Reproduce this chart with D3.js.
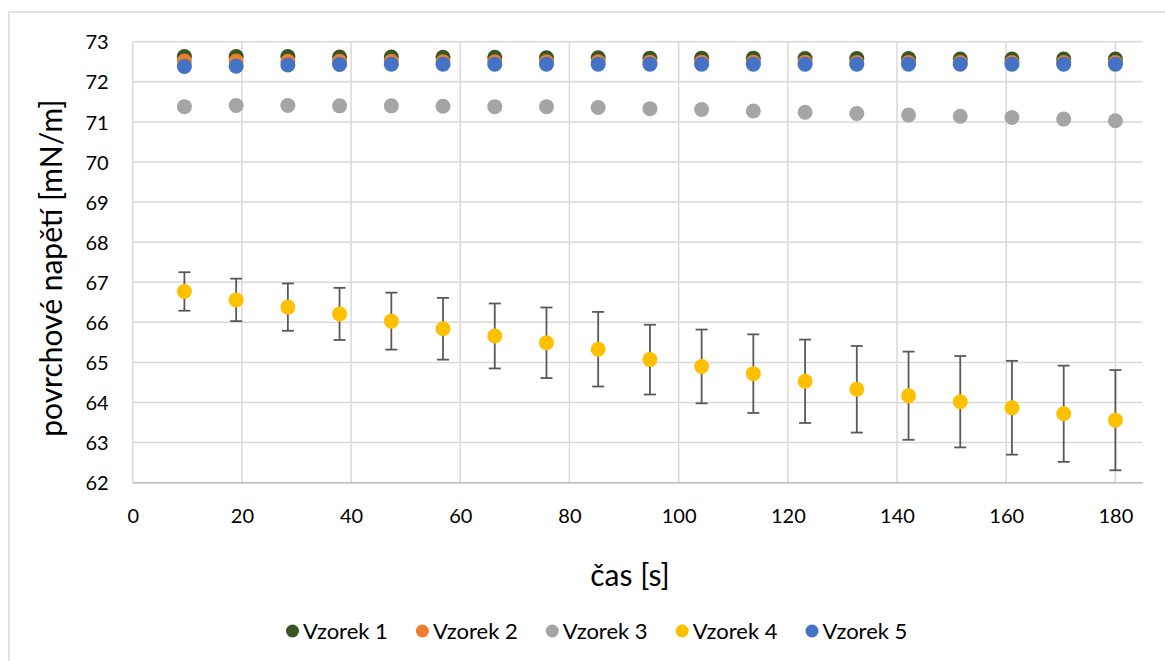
<!DOCTYPE html>
<html>
<head>
<meta charset="utf-8">
<script src="https://cdn.jsdelivr.net/npm/d3@7"></script>
<style>
  html, body { margin: 0; padding: 0; background: #ffffff; }
  svg { display: block; font-family: "Lato", "Noto Sans", sans-serif; }
</style>
</head>
<body>
<svg id="chart" width="1165" height="661"></svg>
<script>
// Measurement times [s]
const times = [9.47, 18.95, 28.42, 37.89, 47.37, 56.84, 66.32, 75.79, 85.26, 94.74,
               104.21, 113.68, 123.16, 132.63, 142.11, 151.58, 161.05, 170.53, 180];

// Surface tension [mN/m] for each sample
const vzorek1 = [72.63, 72.63, 72.63, 72.62, 72.62, 72.61, 72.61, 72.60, 72.60, 72.59,
                 72.59, 72.59, 72.58, 72.58, 72.58, 72.57, 72.57, 72.57, 72.57];
const vzorek2 = [72.52, 72.52, 72.51, 72.51, 72.51, 72.50, 72.50, 72.50, 72.50, 72.49,
                 72.49, 72.49, 72.49, 72.48, 72.48, 72.48, 72.48, 72.48, 72.48];
const vzorek3 = [71.38, 71.41, 71.41, 71.40, 71.40, 71.39, 71.38, 71.38, 71.36, 71.33,
                 71.31, 71.27, 71.24, 71.21, 71.17, 71.14, 71.11, 71.07, 71.03];
const vzorek4 = [66.77, 66.56, 66.38, 66.21, 66.03, 65.84, 65.66, 65.49, 65.33, 65.07,
                 64.90, 64.72, 64.53, 64.33, 64.17, 64.02, 63.87, 63.72, 63.56];
const vzorek5 = [72.38, 72.39, 72.42, 72.43, 72.44, 72.44, 72.44, 72.44, 72.44, 72.44,
                 72.44, 72.44, 72.44, 72.44, 72.44, 72.44, 72.44, 72.44, 72.44];

// Standard deviation of Vzorek 4 (error bars)
const vzorek4Err = [0.48, 0.53, 0.59, 0.65, 0.71, 0.77, 0.81, 0.88, 0.93, 0.87,
                    0.92, 0.98, 1.04, 1.08, 1.10, 1.14, 1.17, 1.20, 1.25];

const seriesNames = ["Vzorek 1", "Vzorek 2", "Vzorek 3", "Vzorek 4", "Vzorek 5"];
const seriesValues = [vzorek1, vzorek2, vzorek3, vzorek4, vzorek5];
const seriesColors = ["#375623", "#ED7D31", "#A5A5A5", "#FFC000", "#4472C4"];

const xTicks = [0, 20, 40, 60, 80, 100, 120, 140, 160, 180];
const yTicks = [62, 63, 64, 65, 66, 67, 68, 69, 70, 71, 72, 73];

const xTitle = "čas [s]";
const yTitle = "povrchové napětí [mN/m]";

// ---- layout ----
const plot = { left: 132.7, right: 1142.7, top: 41.7, bottom: 482.7 };
const svg = d3.select("#chart");

const x = d3.scaleLinear().domain([0, 185]).range([plot.left, plot.right]);
const y = d3.scaleLinear().domain([62, 73]).range([plot.bottom, plot.top]);

// chart frame
svg.append("rect")
  .attr("x", 9).attr("y", 12)
  .attr("width", 1200).attr("height", 700)
  .attr("fill", "#ffffff")
  .attr("stroke", "#d9d9d9").attr("stroke-width", 1.5);

// gridlines
const grid = svg.append("g").attr("stroke", "#d9d9d9").attr("stroke-width", 1.5);
grid.selectAll("line.h").data(yTicks).join("line")
  .attr("class", "h")
  .attr("x1", plot.left).attr("x2", plot.right)
  .attr("y1", d => y(d)).attr("y2", d => y(d));
grid.selectAll("line.v").data(xTicks).join("line")
  .attr("class", "v")
  .attr("x1", d => x(d)).attr("x2", d => x(d))
  .attr("y1", plot.top).attr("y2", plot.bottom);

// bottom axis line
svg.append("line")
  .attr("x1", plot.left).attr("x2", plot.right)
  .attr("y1", plot.bottom).attr("y2", plot.bottom)
  .attr("stroke", "#bfbfbf").attr("stroke-width", 1.5);

// axes (labels only)
const yAxis = svg.append("g")
  .attr("transform", `translate(${plot.left},0)`)
  .call(d3.axisLeft(y).tickValues(yTicks).tickSize(0).tickPadding(24).tickFormat(d3.format("d")));
const xAxis = svg.append("g")
  .attr("transform", `translate(0,${plot.bottom})`)
  .call(d3.axisBottom(x).tickValues(xTicks).tickSize(0).tickFormat(d3.format("d")));
[yAxis, xAxis].forEach(g => {
  g.select(".domain").remove();
  g.selectAll("text")
    .attr("fill", "#000000")
    .style("font-family", "Lato, 'Noto Sans', sans-serif")
    .style("font-size", "20px");
});
yAxis.selectAll("text").attr("dy", "0.36em");
xAxis.selectAll("text").attr("y", 33).attr("dy", "0.36em");

// axis titles
svg.append("text")
  .attr("x", 630).attr("y", 575)
  .attr("dy", "0.36em")
  .attr("text-anchor", "middle")
  .style("font-size", "30px")
  .text(xTitle);
svg.append("text")
  .attr("transform", `translate(51,${(plot.top + plot.bottom) / 2 + 6}) rotate(-90)`)
  .attr("dy", "0.36em")
  .attr("text-anchor", "middle")
  .style("font-size", "30px")
  .text(yTitle);

// error bars for Vzorek 4
const errG = svg.append("g").attr("stroke", "#595959").attr("stroke-width", 1.8);
const errData = times.map((t, i) => ({ t, v: vzorek4[i], e: vzorek4Err[i] }));
errG.selectAll("line.stem").data(errData).join("line")
  .attr("class", "stem")
  .attr("x1", d => x(d.t)).attr("x2", d => x(d.t))
  .attr("y1", d => y(d.v + d.e)).attr("y2", d => y(d.v - d.e));
errG.selectAll("line.capTop").data(errData).join("line")
  .attr("class", "capTop")
  .attr("x1", d => x(d.t) - 6).attr("x2", d => x(d.t) + 6)
  .attr("y1", d => y(d.v + d.e)).attr("y2", d => y(d.v + d.e));
errG.selectAll("line.capBot").data(errData).join("line")
  .attr("class", "capBot")
  .attr("x1", d => x(d.t) - 6).attr("x2", d => x(d.t) + 6)
  .attr("y1", d => y(d.v - d.e)).attr("y2", d => y(d.v - d.e));

// markers
seriesValues.forEach((vals, s) => {
  svg.append("g").selectAll("circle").data(vals).join("circle")
    .attr("cx", (d, i) => x(times[i]))
    .attr("cy", d => y(d))
    .attr("r", 7.5)
    .attr("fill", seriesColors[s]);
});

// legend
const legend = svg.append("g");
let cursor = 286;
seriesNames.forEach((name, s) => {
  const item = legend.append("g");
  item.append("circle")
    .attr("cx", cursor + 6.5).attr("cy", 631).attr("r", 6.5)
    .attr("fill", seriesColors[s]);
  const t = item.append("text")
    .attr("x", cursor + 17).attr("y", 631).attr("dy", "0.36em")
    .style("font-size", "22px")
    .text(name);
  cursor += 17 + t.node().getComputedTextLength() + 28;
});
</script>
</body>
</html>
